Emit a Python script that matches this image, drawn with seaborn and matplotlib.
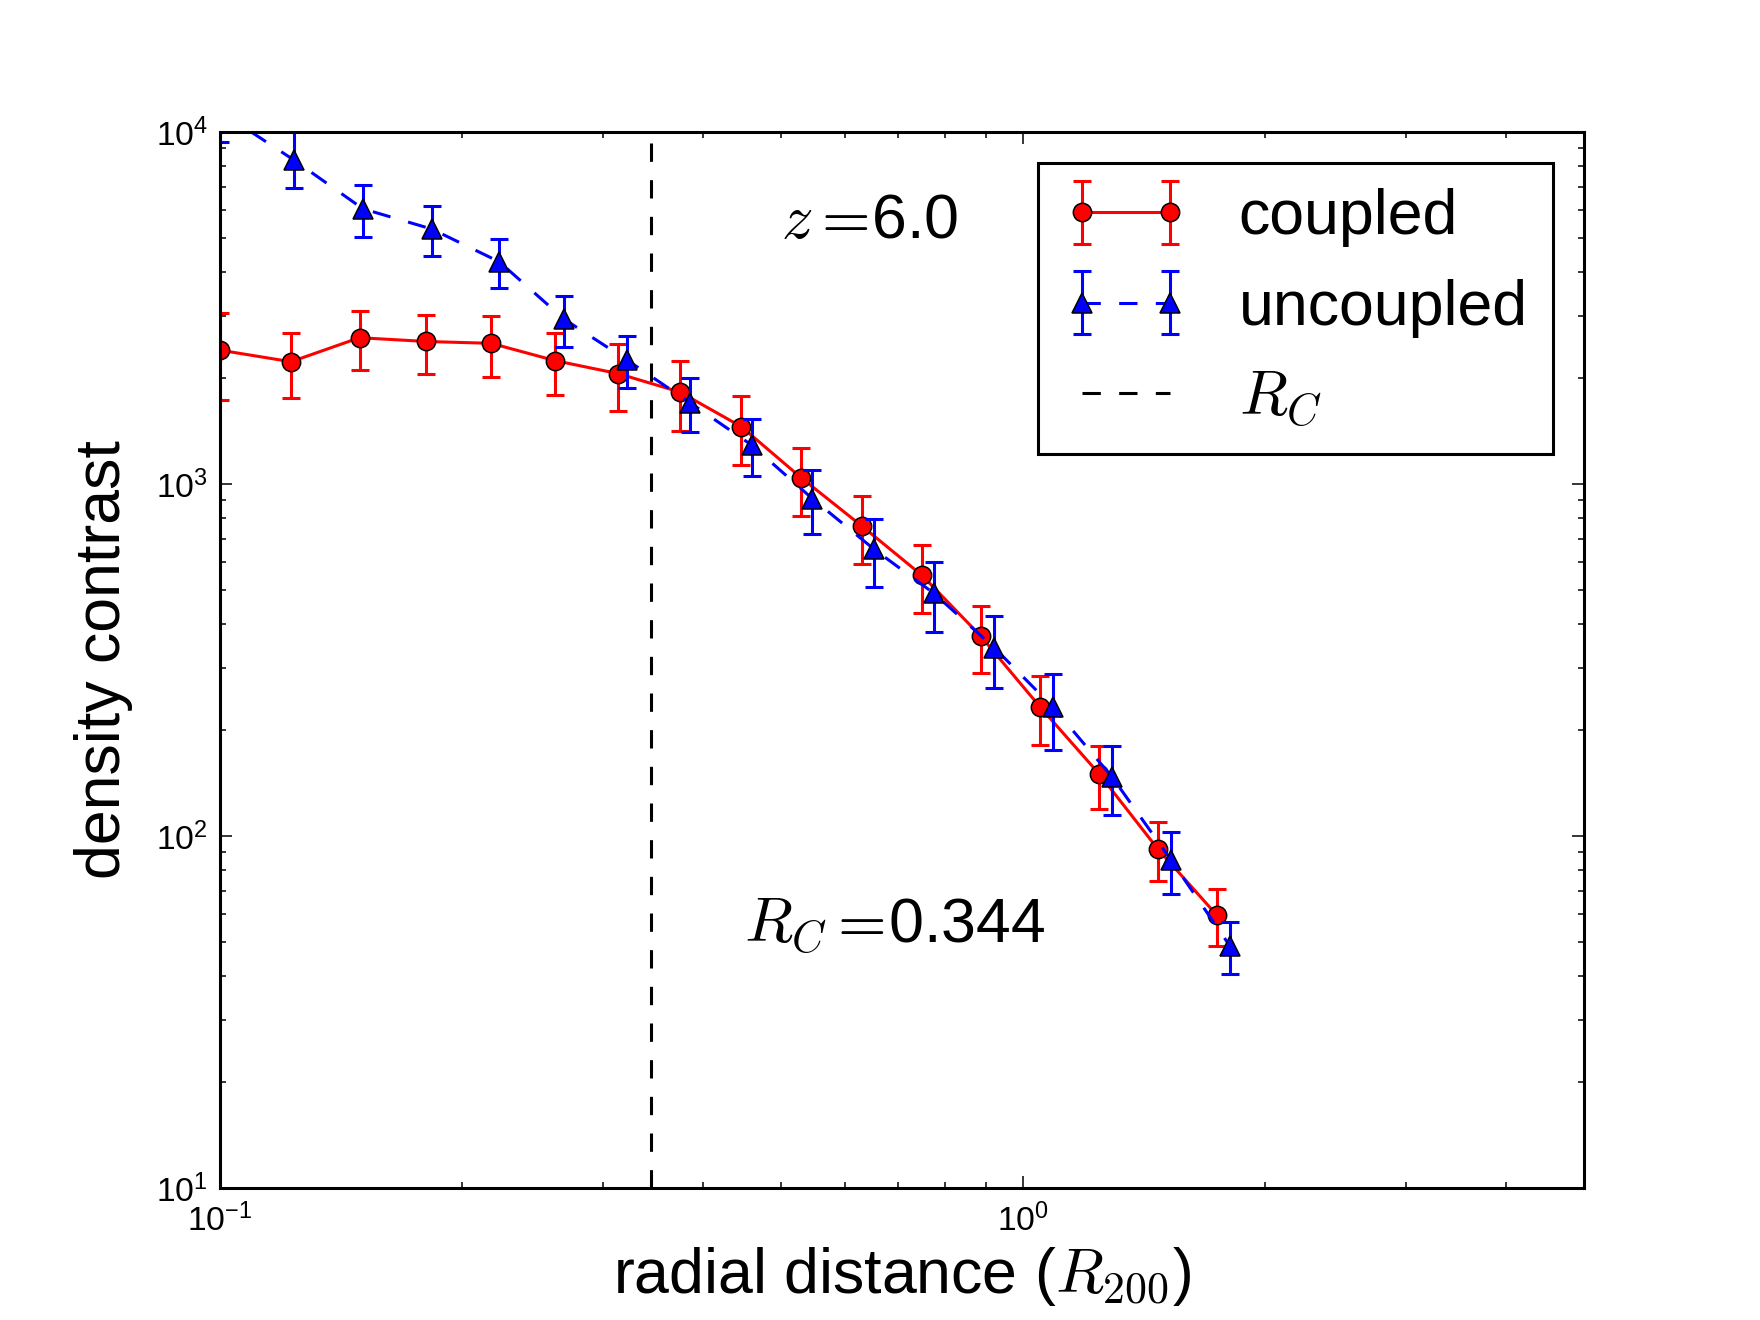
import numpy as np
import pandas as pd
import matplotlib
matplotlib.use("Agg")
import matplotlib.pyplot as plt
import seaborn as sns
from matplotlib.container import ErrorbarContainer

# ============================================================
# Dados (z = 6.0)
# ============================================================

r_coupled = [0.100, 0.1226, 0.1492, 0.1808, 0.2176, 0.2617, 0.3135, 0.374,
             0.446, 0.530, 0.630, 0.749, 0.886, 1.050, 1.245, 1.472, 1.744]
d_coupled = [2400, 2225, 2604, 2540, 2510, 2240, 2058, 1825,
             1455, 1040, 760, 550, 370, 233, 150, 92, 59.6]
err_coupled = [667, 465, 497, 483, 490, 450, 443, 412,
               323, 227, 167, 120, 80, 52, 30.5, 17.5, 11]

r_uncoupled = [0.100, 0.1236, 0.1507, 0.1836, 0.2227, 0.2683, 0.3214, 0.385,
               0.4595, 0.547, 0.653, 0.774, 0.921, 1.091, 1.292, 1.529, 1.811]
d_uncoupled = [11440, 8325, 6050, 5300, 4280, 2940, 2250, 1702,
               1290, 908, 652, 490, 343, 232, 147, 85.6, 48.7]
err_uncoupled_lo = [2055, 1375, 1020, 865, 687, 488, 375, 293,
                    239, 187, 143, 111, 80, 57, 32.6, 17, 8.2]
err_uncoupled_hi = [2055, 1750, 1020, 865, 687, 488, 375, 293,
                    239, 187, 143, 111, 80, 57, 32.6, 17, 8.2]

R_C = 0.344
redshift = "6.0"

RED = "#FF0000"
BLUE = "#0000FF"

coupled = pd.DataFrame({"r": r_coupled, "delta": d_coupled})
uncoupled = pd.DataFrame({"r": r_uncoupled, "delta": d_uncoupled})

# ============================================================
# Estilo (visual "classico" do matplotlib)
# ============================================================

sns.set_theme(style="ticks", color_codes=False, rc={
    "xtick.direction": "in",
    "ytick.direction": "in",
    "xtick.top": True,
    "ytick.right": True,
    "xtick.major.size": 4,
    "ytick.major.size": 4,
    "xtick.minor.size": 2,
    "ytick.minor.size": 2,
    "xtick.major.width": 0.5,
    "ytick.major.width": 0.5,
    "xtick.minor.width": 0.5,
    "ytick.minor.width": 0.5,
    "xtick.major.pad": 5,
    "ytick.major.pad": 4,
    "xtick.color": "k",
    "ytick.color": "k",
    "axes.edgecolor": "k",
    "axes.labelcolor": "k",
    "text.color": "k",
    "axes.linewidth": 1.0,
    "xtick.labelsize": 11,
    "ytick.labelsize": 11,
    "axes.labelsize": 20.5,
    "mathtext.fontset": "cm",
    "lines.dashed_pattern": [6, 6],
    "lines.scale_dashes": False,
    "lines.solid_capstyle": "projecting",
    "legend.fontsize": 20.5,
    "legend.numpoints": 2,
    "legend.fancybox": False,
    "legend.edgecolor": "k",
    "legend.framealpha": 1,
    "legend.borderpad": 0.4,
    "legend.labelspacing": 0.5,
    "legend.handletextpad": 0.8,
    "legend.handlelength": 2.0,
    "legend.borderaxespad": 0.5,
})
plt.rcParams["font.family"] = ["Liberation Sans", "DejaVu Sans"]

fig, ax = plt.subplots(figsize=(8, 6))
fig.subplots_adjust(left=0.125, right=0.9, bottom=0.1, top=0.9)

# linha vertical R_C
vline = ax.axvline(R_C, color="k", linestyle="--", linewidth=1.0, zorder=1.5)

# coupled
sns.lineplot(data=coupled, x="r", y="delta", ax=ax, color=RED, marker="o",
             markersize=6, markeredgecolor="k", markeredgewidth=0.5,
             linewidth=1.0, estimator=None, sort=False, zorder=2.1)
line_c = ax.lines[-1]
eb_c = ax.errorbar(r_coupled, d_coupled, yerr=err_coupled, fmt="none",
                   ecolor=RED, elinewidth=1.0, capsize=3, capthick=1.0,
                   zorder=2.0)

# uncoupled
sns.lineplot(data=uncoupled, x="r", y="delta", ax=ax, color=BLUE, marker="^",
             markersize=6.5, markeredgecolor="k", markeredgewidth=0.5,
             linewidth=1.0, linestyle="--", estimator=None, sort=False,
             zorder=2.3)
line_u = ax.lines[-1]
eb_u = ax.errorbar(r_uncoupled, d_uncoupled,
                   yerr=[err_uncoupled_lo, err_uncoupled_hi], fmt="none",
                   ecolor=BLUE, elinewidth=1.0, capsize=3, capthick=1.0,
                   zorder=2.2)

ax.set_xscale("log")
ax.set_yscale("log")
ax.set_xlim(0.1, 5)
ax.set_ylim(10, 1e4)

ax.set_xlabel(r"radial distance ($R_{200}$)", labelpad=2.5)
ax.set_ylabel("density contrast", labelpad=7.5)

ax.text(0.5, 5000, r"$z=\!$" + redshift, fontsize=20.5)
ax.text(0.45, 50, r"$R_C=\!$" + f"{R_C}", fontsize=20.5)

# legenda com barras de erro
h_c = ErrorbarContainer((line_c, eb_c.lines[1], eb_c.lines[2]),
                        has_xerr=False, has_yerr=True)
h_u = ErrorbarContainer((line_u, eb_u.lines[1], eb_u.lines[2]),
                        has_xerr=False, has_yerr=True)
leg = ax.legend([h_c, h_u, vline], ["coupled", "uncoupled", r"$R_C$"],
                loc="upper right")
leg.get_frame().set_linewidth(1.0)

fig.savefig("out.png", dpi=220)
